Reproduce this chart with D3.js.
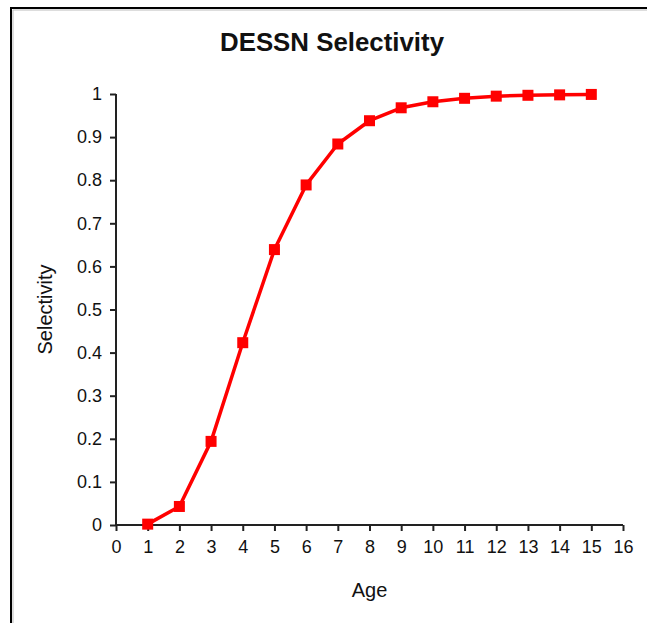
<!DOCTYPE html>
<html>
<head>
<script src="https://d3js.org/d3.v7.min.js"></script>
<title>DESSN Selectivity</title>
<style>
  body { margin: 0; background: #fff; }
  text { font-family: Arial, "Liberation Sans", sans-serif; fill: #111; }
</style>
</head>
<body>
<div id="chart"></div>
<script>
// data
var ages = [1, 2, 3, 4, 5, 6, 7, 8, 9, 10, 11, 12, 13, 14, 15];
var selectivity = [0.002, 0.043, 0.194, 0.423, 0.639, 0.789, 0.884, 0.938, 0.968, 0.982, 0.990, 0.995, 0.997, 0.998, 0.999];
var xTicks = d3.range(0, 17);
var yTicks = [0, 0.1, 0.2, 0.3, 0.4, 0.5, 0.6, 0.7, 0.8, 0.9, 1];

var W = 647, H = 623;
var svg = d3.select("#chart").append("svg")
  .attr("width", W)
  .attr("height", H);

// outer frame (only top and left edges are visible)
svg.append("path")
  .attr("d", "M11,623V8H647")
  .attr("fill", "none")
  .attr("stroke", "#000")
  .attr("stroke-width", 2);
svg.append("path")
  .attr("d", "M13,623V10H647")
  .attr("fill", "none")
  .attr("stroke", "#bbb")
  .attr("stroke-width", 1);

var x = d3.scaleLinear().domain([0, 16]).range([116, 623]);
var y = d3.scaleLinear().domain([0, 1]).range([525, 94]);

// title
svg.append("text")
  .attr("x", 332)
  .attr("y", 51)
  .attr("text-anchor", "middle")
  .attr("textLength", 224)
  .attr("lengthAdjust", "spacingAndGlyphs")
  .style("font-size", "26px")
  .style("font-weight", "bold")
  .text("DESSN Selectivity");

// axes
var yaxis = d3.axisLeft(y)
  .tickValues(yTicks)
  .tickSize(6)
  .tickPadding(8)
  .tickFormat(function (d) { return d === 0 || d === 1 ? String(d) : d3.format(".1f")(d); });
var xaxis = d3.axisBottom(x)
  .tickValues(xTicks)
  .tickSize(6)
  .tickPadding(9)
  .tickFormat(d3.format("d"));

var gy = svg.append("g")
  .attr("transform", "translate(" + x(0) + ",0)")
  .call(yaxis);
var gx = svg.append("g")
  .attr("transform", "translate(0," + y(0) + ")")
  .call(xaxis);

[gy, gx].forEach(function (g) {
  g.select(".domain").attr("stroke", "#222").attr("stroke-width", 2);
  g.selectAll(".tick line").attr("stroke", "#222").attr("stroke-width", 2);
  g.selectAll(".tick text")
    .style("font-size", "18px")
    .style("font-family", "Arial, 'Liberation Sans', sans-serif")
    .attr("fill", "#111");
});
// plain domain lines without end caps
gy.select(".domain").attr("d", "M0," + y(1) + "V" + y(0));
gx.select(".domain").attr("d", "M" + x(0) + ",0H" + x(16));

// axis titles
svg.append("text")
  .attr("x", x(8))
  .attr("y", 597)
  .attr("text-anchor", "middle")
  .style("font-size", "20px")
  .text("Age");

svg.append("text")
  .attr("transform", "translate(52," + y(0.5) + ") rotate(-90)")
  .attr("text-anchor", "middle")
  .style("font-size", "20px")
  .text("Selectivity");

// line + markers
var pts = ages.map(function (a, i) { return { age: a, sel: selectivity[i] }; });

var line = d3.line()
  .x(function (d) { return x(d.age); })
  .y(function (d) { return y(d.sel); });

svg.append("path")
  .datum(pts)
  .attr("d", line)
  .attr("fill", "none")
  .attr("stroke", "#ff0000")
  .attr("stroke-width", 3.5)
  .attr("stroke-linejoin", "round");

svg.selectAll("rect.marker")
  .data(pts)
  .enter()
  .append("rect")
  .attr("class", "marker")
  .attr("x", function (d) { return x(d.age) - 5.5; })
  .attr("y", function (d) { return y(d.sel) - 5.5; })
  .attr("width", 11)
  .attr("height", 11)
  .attr("fill", "#ff0000");
</script>
</body>
</html>
